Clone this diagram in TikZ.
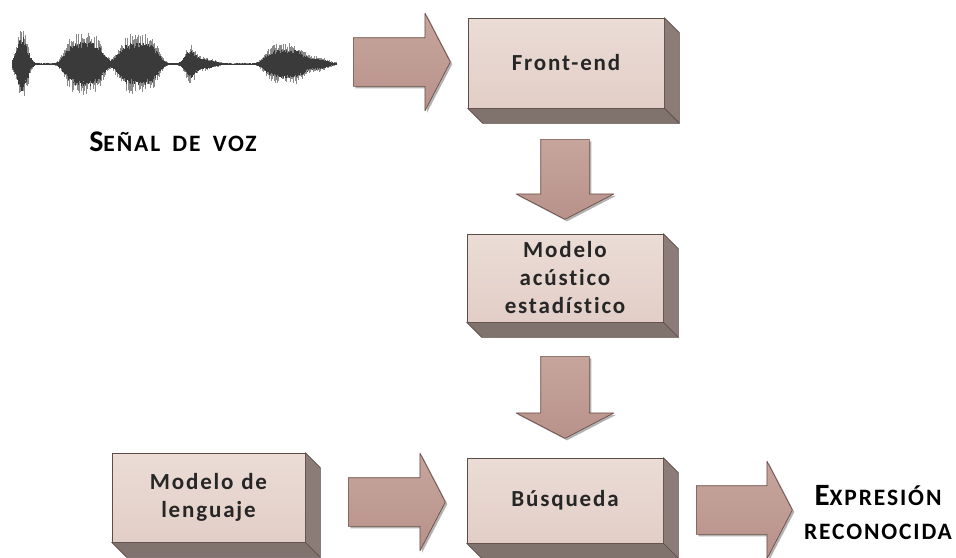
\documentclass[tikz,border=0pt]{standalone}
\usepackage{fontspec}
\setmainfont{Carlito}
\newfontfamily\boxfont[LetterSpace=8,Ligatures=NoCommon]{Carlito}
\newfontfamily\capsfont[LetterSpace=8,Ligatures=NoCommon]{Carlito}
\usetikzlibrary{shapes.arrows,shadows}

\definecolor{facetop}{HTML}{EBDCD6}
\definecolor{facebot}{HTML}{E2CEC7}
\definecolor{sidec}{HTML}{8B7C77}
\definecolor{edgec}{HTML}{5E4C47}
\definecolor{arrowtop}{HTML}{C6A59D}
\definecolor{arrowbot}{HTML}{B8928A}
\definecolor{arrowedge}{HTML}{6B4D47}
\definecolor{textc}{HTML}{262626}
\definecolor{wavedark}{HTML}{3A3A3A}
\definecolor{wavelight}{HTML}{8A8A8A}

% side and bottom faces of a solid block
\newcommand\solidfaces[1]{%
  \filldraw[fill=sidec, draw=edgec, line width=0.7pt, line join=round]
    (#1.north east) -- ++(15,15) -- ([shift={(15,15)}]#1.south east) -- (#1.south east) -- cycle;
  \filldraw[fill=sidec!92!black, draw=edgec, line width=0.7pt, line join=round]
    (#1.south west) -- (#1.south east) -- ([shift={(15,15)}]#1.south east) -- ([shift={(15,15)}]#1.south west) -- cycle;
}

\begin{document}
\begin{tikzpicture}[x=1pt, y=-1pt,
  declare function={
    g(\t,\c,\w) = exp(-min(((\t-\c)/\w)^2, 12));
    f(\t,\c,\w) = exp(-(min(((\t-\c)/\w)^2, 3.5))^2);
    env(\t) = 0.8 + 40*g(\t,22,7) + 31*f(\t,84,21) + 30*f(\t,138,22)
              + 18*g(\t,190,7) + 6*g(\t,205,12) + 20*f(\t,285,22) + 7*g(\t,318,12);
  },
  block/.style={draw=edgec, line width=0.7pt, top color=facetop, bottom color=facebot,
    minimum width=196pt, text width=186pt, align=center, inner sep=0pt,
    font=\boxfont\bfseries\fontsize{23}{28}\selectfont, text=textc},
  fatarrow/.style={single arrow, draw=arrowedge, line width=0.7pt, line join=round,
    top color=arrowtop, bottom color=arrowbot, inner xsep=0pt, inner ysep=24pt,
    minimum width=97pt, single arrow head extend=24.5pt, single arrow tip angle=125,
    anchor=tail, drop shadow={shadow xshift=2pt, shadow yshift=-2pt, opacity=0.3, fill=black}},
  caption/.style={font=\capsfont\bfseries, text=black, inner sep=0pt}
]
\useasboundingbox (0,0) rectangle (956,557);

% speech waveform
\pgfmathsetseed{11}
\foreach \p in {12,12.5,...,336}{
  \pgfmathsetmacro\e{env(\p)}
  \pgfmathsetmacro\up{\e*(0.25+0.75*rnd)}
  \pgfmathsetmacro\dn{\e*(0.25+0.75*rnd)}
  \draw[wavelight, line width=0.45pt] (\p,64-\up) -- (\p,64+\dn);
  \pgfmathsetmacro\cu{\e*(0.5+0.2*rnd)}
  \pgfmathsetmacro\cd{\e*(0.5+0.2*rnd)}
  \draw[wavedark, line width=0.6pt] (\p,64-\cu) -- (\p,64+\cd);
}
\draw[wavedark, line width=0.8pt] (12,64) -- (336,64);

% processing blocks
\node[block, minimum height=90pt] (front) at (566,63) {Front-end};
\solidfaces{front}
\node[block, minimum height=88pt] (acus) at (565,278) {Modelo\\acústico\\estadístico};
\solidfaces{acus}
\node[block, minimum height=85pt] (busq) at (565,500.5) {Búsqueda};
\solidfaces{busq}
\node[block, minimum width=193pt, minimum height=89pt] (leng) at (208.5,497.5) {Modelo de\\lenguaje};
\solidfaces{leng}

% block arrows
\node[fatarrow, minimum height=97pt] (a1) at (353,62) {};
\node[fatarrow, minimum height=80pt, rotate=-90] (a2) at (565,139) {};
\node[fatarrow, minimum height=82pt, rotate=-90] (a3) at (565,356) {};
\node[fatarrow, minimum height=97pt] (a4) at (348,502) {};
\node[fatarrow, minimum height=96pt] (a5) at (696,510) {};

% captions
\node[caption] (senal) at (173,142)
  {\fontsize{30}{32}\selectfont S\fontsize{23.5}{32}\selectfont EÑAL\hspace{5pt} DE\hspace{5pt} VOZ};
\node[caption] (expr) at (878,496)
  {\fontsize{31}{32}\selectfont E\fontsize{23.5}{32}\selectfont XPRESIÓN};
\node[caption] (reco) at (878,532)
  {\fontsize{23.5}{32}\selectfont RECONOCIDA};
\end{tikzpicture}
\end{document}
